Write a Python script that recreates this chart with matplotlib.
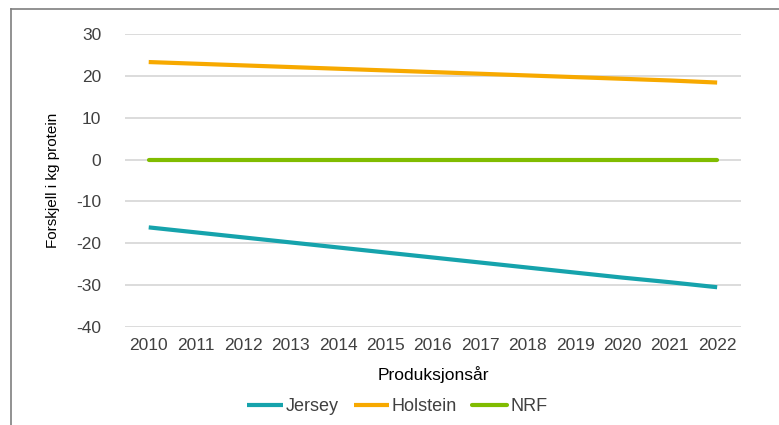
"""
Difference in kg protein per breed across production years.
"""

import matplotlib.pyplot as plt
from matplotlib.lines import Line2D

years = [str(y) for y in range(2010, 2023)]
jersey = [-16.2, -17.4, -18.6, -19.8, -21.0, -22.2, -23.4, -24.6, -25.8, -27.0, -28.2, -29.3, -30.5]
holstein = [23.3, 22.9, 22.5, 22.1, 21.7, 21.3, 20.9, 20.5, 20.1, 19.7, 19.3, 18.9, 18.4]
nrf = [0, 0, 0, 0, 0, 0, 0, 0, 0, 0, 0, 0, 0]
y_ticks = [-40, -30, -20, -10, 0, 10, 20, 30]

text_color = "#404040"
plt.rcParams["font.family"] = ["Liberation Sans", "DejaVu Sans"]
plt.rcParams["axes.unicode_minus"] = False

fig = plt.figure(figsize=(7.79, 4.25), dpi=100)
ax = fig.add_axes([0.1605, 0.2306, 0.7905, 0.6894])

x = range(len(years))
ax.plot(x, jersey, color="#16A3AC", lw=3.0, label="Jersey", solid_capstyle="butt")
ax.plot(x, holstein, color="#F7A900", lw=3.0, label="Holstein", solid_capstyle="butt")
ax.plot(x, nrf, color="#80BC00", lw=3.0, label="NRF", solid_capstyle="round")

ax.set_xlim(-0.5, len(years) - 0.5)
ax.set_ylim(-40, 30)
ax.set_yticks(y_ticks)
ax.set_xticks(list(x))
ax.set_xticklabels(years)
ax.grid(axis="y", color="#d9d9d9", lw=1.3)
ax.set_axisbelow(True)
for spine in ax.spines.values():
    spine.set_visible(False)
ax.tick_params(length=0, labelsize=12.5, colors=text_color)
ax.tick_params(axis="y", pad=17)
ax.tick_params(axis="x", pad=8)

ax.set_xlabel("Produksjonsår", fontsize=12.5, color="black", labelpad=9)
ax.set_ylabel("Forskjell i kg protein", fontsize=11, color="black", labelpad=12)

ax.legend(
    loc="center",
    bbox_to_anchor=(0.51, 0.043),
    bbox_transform=fig.transFigure,
    ncol=3,
    frameon=False,
    fontsize=13,
    handlelength=1.95,
    handletextpad=0.15,
    columnspacing=0.85,
    labelcolor=text_color,
)

# outer frame (left and top edges visible)
fig.add_artist(Line2D([11 / 779, 11 / 779], [0, 1 - 9 / 425], transform=fig.transFigure,
                      color="#7f7f7f", lw=1.2))
fig.add_artist(Line2D([11 / 779, 1], [1 - 9 / 425, 1 - 9 / 425], transform=fig.transFigure,
                      color="#7f7f7f", lw=1.2))

fig.savefig("out.png", dpi=100)
